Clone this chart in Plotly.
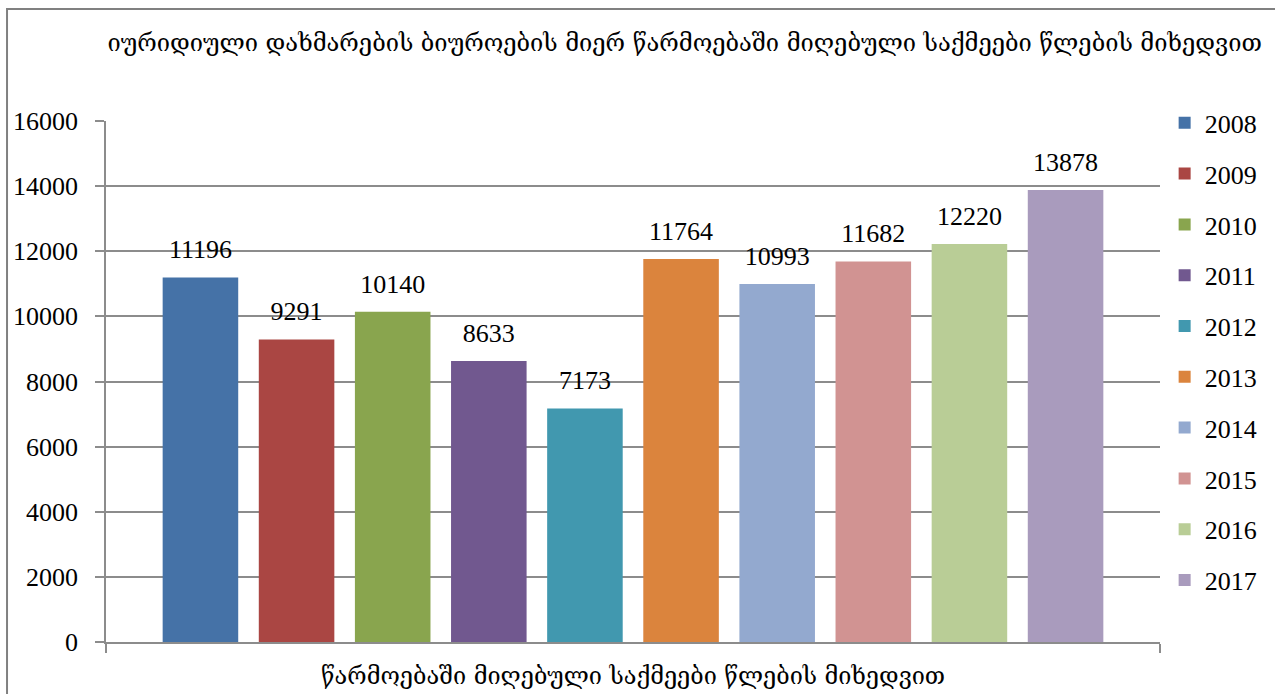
import plotly.graph_objects as go

title_text = "იურიდიული დახმარების ბიუროების მიერ წარმოებაში მიღებული საქმეები წლების მიხედვით"
category = "წარმოებაში მიღებული საქმეები წლების მიხედვით"
years = ["2008", "2009", "2010", "2011", "2012", "2013", "2014", "2015", "2016", "2017"]
values = [11196, 9291, 10140, 8633, 7173, 11764, 10993, 11682, 12220, 13878]
colors = ["#4572A7", "#AA4643", "#89A54E", "#71588F", "#4198AF",
          "#DB843D", "#93A9CF", "#D19392", "#B9CD96", "#A99BBD"]
y_ticks = [0, 2000, 4000, 6000, 8000, 10000, 12000, 14000, 16000]
y_tick_labels = [str(t) for t in y_ticks]

FONT = "Liberation Serif"
GEO_FONT = "DejaVu Serif"
GRID = "#8c8c8c"

fig = go.Figure()
for yr, v, c in zip(years, values, colors):
    fig.add_trace(go.Bar(
        x=[category], y=[v], name=yr, legendgroup=yr,
        marker=dict(color=c, line=dict(width=0)),
        text=[f"<span style='font-size:26px'>{v}</span><br>&nbsp;"],
        textposition="outside", cliponaxis=False, constraintext="none",
        textfont=dict(family=FONT, size=11, color="black"),
    ))

fig.update_layout(
    width=1275, height=694, autosize=False,
    paper_bgcolor="white", plot_bgcolor="white",
    margin=dict(l=106, r=115, t=121, b=52, autoexpand=False),
    barmode="group", bargap=0.088, bargroupgap=0.214,
    title=dict(text=title_text, x=0.537, xanchor="center", y=0.938, yanchor="middle",
               font=dict(family=GEO_FONT, size=23.7, color="black")),
    font=dict(family=FONT, color="black"),
    showlegend=True,
    legend=dict(x=1.0044, xanchor="left", y=1.0415, yanchor="top",
                font=dict(family=FONT, size=26, color="black"),
                tracegroupgap=14, itemwidth=30, maxheight=680,
                bgcolor="rgba(0,0,0,0)"),
    xaxis=dict(showline=True, linecolor=GRID, linewidth=1.5,
               ticks="outside", tickson="boundaries", ticklen=9, tickcolor=GRID,
               tickwidth=1.5, ticklabelstandoff=12,
               tickfont=dict(family=GEO_FONT, size=23.5, color="black"),
               showgrid=False, fixedrange=True),
    yaxis=dict(range=[0, 16000], tickmode="array", tickvals=y_ticks, ticktext=y_tick_labels,
               showline=True, linecolor=GRID, linewidth=1.5,
               ticks="outside", ticklen=9, tickcolor=GRID, tickwidth=1.5,
               gridcolor=GRID, gridwidth=1.5, zeroline=False,
               tickfont=dict(family=FONT, size=26, color="black"),
               ticklabelstandoff=12),
    shapes=[dict(type="rect", xref="paper", yref="paper",
                 x0=-0.0939, x1=1.3, y0=-0.3, y1=1.215,
                 line=dict(color="#808080", width=2), fillcolor="rgba(0,0,0,0)",
                 layer="above")],
)

fig.write_html(
    "out.html",
    config={"displayModeBar": False},
    post_script="document.body.style.margin='0';document.body.style.padding='0';"
                "document.documentElement.style.overflow='hidden';",
)
